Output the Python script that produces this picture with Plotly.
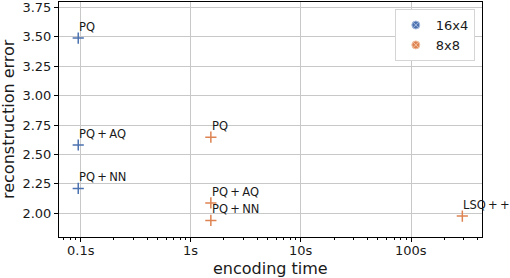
import math
import plotly.graph_objects as go

# data
methods_16x4 = ["PQ", "PQ\u2009+\u2009AQ", "PQ\u2009+\u2009NN"]
time_16x4 = [0.095, 0.095, 0.095]
err_16x4 = [3.49, 2.58, 2.21]

methods_8x8 = ["PQ", "PQ\u2009+\u2009AQ", "PQ\u2009+\u2009NN", "LSQ\u2009+\u2009+"]
time_8x8 = [1.52, 1.52, 1.52, 292]
err_8x8 = [2.647, 2.087, 1.938, 1.975]

series = [
    ("16x4", methods_16x4, time_16x4, err_16x4, "#4c72b0", "#a9bde0"),
    ("8x8", methods_8x8, time_8x8, err_8x8, "#dd8452", "#f2c3a6"),
]

tick_vals = [0.1, 1, 10, 100]
tick_text = ["0.1s", "1s", "10s", "100s"]
minor_vals = [m * 10 ** e for e in range(-2, 3) for m in range(2, 10)]
y_ticks = [2.0, 2.25, 2.5, 2.75, 3.0, 3.25, 3.5, 3.75]

FONT = "DejaVu Sans"
TXT = "#1a1a1a"
W, H = 510, 278
ML, MR, MT, MB = 59, 28, 2, 41
H_PLOT = H - MT - MB
W_PLOT = W - ML - MR

fig = go.Figure()
for name, labels, xs, ys, col, light in series:
    fig.add_trace(go.Scatter(
        x=xs, y=ys, mode="markers", showlegend=False,
        marker=dict(symbol="cross-thin", size=8, line=dict(color=col, width=1.5)),
    ))
    fig.add_trace(go.Scatter(
        x=[None], y=[None], mode="markers", name=name,
        marker=dict(symbol="circle-x", size=8, color=col, line=dict(color=light, width=1)),
    ))
    for lab, x, y in zip(labels, xs, ys):
        fig.add_annotation(
            x=math.log10(x), y=y, xref="x", yref="y", text=lab, showarrow=False,
            xanchor="left", yanchor="bottom", xshift=-1, yshift=2,
            font=dict(family=FONT, size=11.5, color=TXT),
        )

# x tick labels (drawn as annotations to control their distance from the axis)
for v, t in zip(tick_vals, tick_text):
    fig.add_annotation(x=math.log10(v), y=(H - MB - 250.5) / H_PLOT, xref="x", yref="paper",
                       text=t, showarrow=False, xanchor="center", yanchor="middle",
                       font=dict(family=FONT, size=13, color=TXT))

fig.add_annotation(x=0.5, y=(H - MB - 268) / H_PLOT, xref="paper", yref="paper",
                   text="encoding time", showarrow=False, xanchor="center", yanchor="middle",
                   font=dict(family=FONT, size=16, color=TXT))
fig.add_annotation(x=(8.5 - ML) / W_PLOT, y=0.5, xref="paper", yref="paper",
                   text="reconstruction error", showarrow=False, xanchor="center",
                   yanchor="middle", textangle=-90,
                   font=dict(family=FONT, size=16, color=TXT))

axis_common = dict(
    showline=True, linecolor="black", linewidth=1, mirror=True,
    ticks="outside", ticklen=4, tickwidth=1, tickcolor="black",
    showgrid=True, gridcolor="#c8c8c8", gridwidth=1, zeroline=False,
    tickfont=dict(family=FONT, size=13, color=TXT), automargin=False,
)
fig.update_xaxes(
    type="log", range=[-1.197, 2.644],
    tickmode="array", tickvals=tick_vals, ticktext=tick_text, showticklabels=False,
    minor=dict(tickmode="array", tickvals=minor_vals, ticks="outside", ticklen=2,
               tickcolor="black", showgrid=False),
    **axis_common,
)
fig.update_yaxes(
    range=[1.797, 3.797], tickmode="array",
    tickvals=y_ticks, ticktext=["%.2f" % v for v in y_ticks],
    **axis_common,
)
fig.update_layout(
    width=W, height=H,
    margin=dict(l=ML, r=MR, t=MT, b=MB),
    plot_bgcolor="white", paper_bgcolor="white",
    legend=dict(
        x=0.983, y=0.97, xanchor="right", yanchor="top",
        bgcolor="white", bordercolor="#d5d5d5", borderwidth=1,
        font=dict(family=FONT, size=13, color=TXT),
        itemwidth=30,
    ),
)
fig.write_html("out.html", config={"displayModeBar": False},
               post_script="document.body.style.margin='0';")
